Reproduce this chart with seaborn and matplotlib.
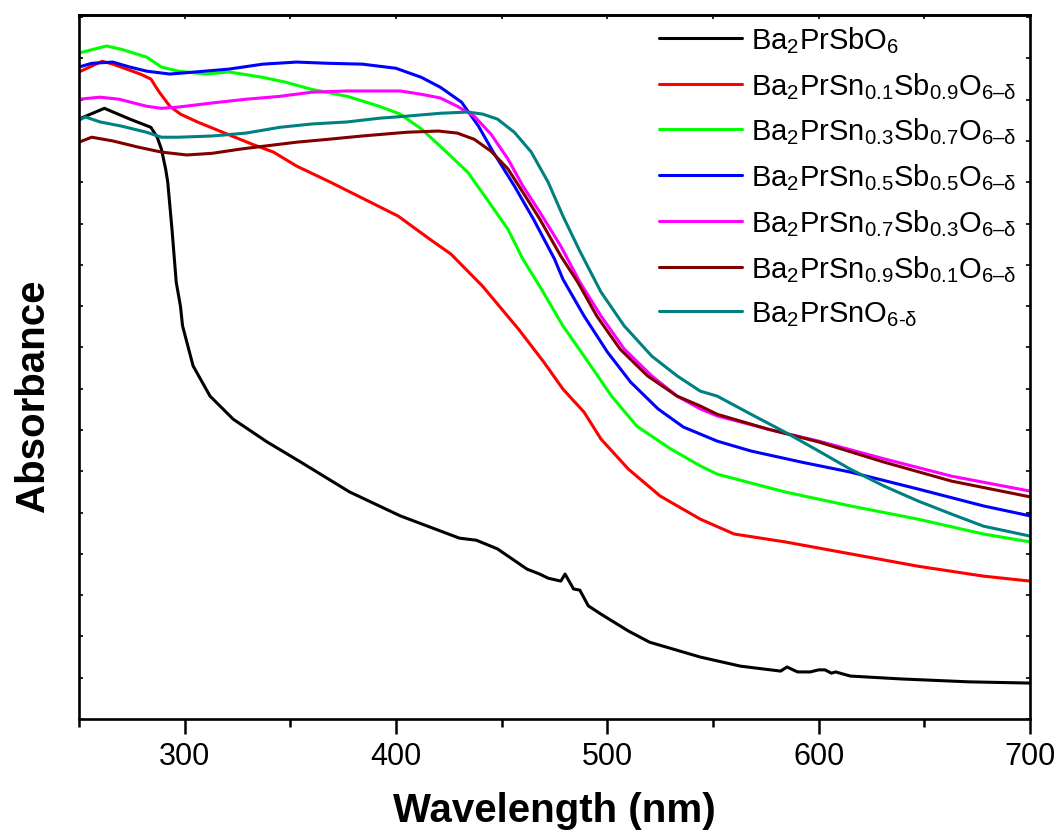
import numpy as np
import pandas as pd
import matplotlib
matplotlib.use("Agg")
import matplotlib.pyplot as plt
from matplotlib.ticker import MultipleLocator
import seaborn as sns

# ---------------- data (absorbance in arbitrary units) -------------
labels = [
    r"Ba$_2$PrSbO$_6$",
    r"Ba$_2$PrSn$_{0.1}$Sb$_{0.9}$O$_{\mathrm{6–δ}}$",
    r"Ba$_2$PrSn$_{0.3}$Sb$_{0.7}$O$_{\mathrm{6–δ}}$",
    r"Ba$_2$PrSn$_{0.5}$Sb$_{0.5}$O$_{\mathrm{6–δ}}$",
    r"Ba$_2$PrSn$_{0.7}$Sb$_{0.3}$O$_{\mathrm{6–δ}}$",
    r"Ba$_2$PrSn$_{0.9}$Sb$_{0.1}$O$_{\mathrm{6–δ}}$",
    r"Ba$_2$PrSnO$_{\mathrm{6\text{-}δ}}$",
]
colors = ["#000000", "#ff0000", "#00ff00", "#0000ff", "#ff00ff", "#800000", "#008080"]

wl_sb = [250, 262, 274, 284, 287, 289, 291, 292, 294, 296, 298, 299, 304, 312, 323, 339, 355,
         378, 402, 430, 438, 448, 462, 468, 472, 478, 480, 484, 487, 491, 497, 510, 520, 544,
         563, 582, 585, 590, 596, 600, 603, 606, 608, 615, 639, 671, 700]
ab_sb = [14.53, 14.79, 14.53, 14.33, 14.09, 13.80, 13.32, 13.00, 11.86, 10.58, 10.00, 9.52,
         8.55, 7.82, 7.26, 6.71, 6.22, 5.50, 4.92, 4.38, 4.33, 4.12, 3.63, 3.51, 3.41, 3.34,
         3.51, 3.15, 3.12, 2.74, 2.54, 2.13, 1.86, 1.50, 1.28, 1.16, 1.26, 1.14, 1.14, 1.19,
         1.19, 1.11, 1.14, 1.04, 0.97, 0.90, 0.87]

wl_01 = [250, 261, 266, 279, 284, 288, 293, 298, 306, 318, 332, 342, 353, 369, 385, 401, 416,
         426, 441, 458, 470, 479, 489, 497, 510, 525, 544, 560, 584, 615, 647, 678, 700]
ab_01 = [15.67, 15.93, 15.86, 15.62, 15.50, 15.18, 14.84, 14.65, 14.46, 14.21, 13.92, 13.73,
         13.39, 13.00, 12.59, 12.18, 11.62, 11.26, 10.48, 9.44, 8.64, 7.99, 7.43, 6.78, 6.05,
         5.40, 4.84, 4.48, 4.29, 4.00, 3.70, 3.46, 3.34]

wl_03 = [250, 263, 270, 282, 289, 297, 310, 321, 337, 348, 360, 377, 392, 402, 412, 421, 434,
         443, 453, 460, 468, 479, 491, 502, 514, 530, 544, 552, 584, 615, 647, 678, 700]
ab_03 = [16.13, 16.30, 16.22, 16.03, 15.79, 15.69, 15.62, 15.67, 15.54, 15.42, 15.25, 15.08,
         14.84, 14.65, 14.29, 13.87, 13.24, 12.59, 11.86, 11.14, 10.48, 9.52, 8.64, 7.82, 7.09,
         6.54, 6.13, 5.93, 5.50, 5.16, 4.84, 4.48, 4.29]

wl_05 = [250, 256, 266, 274, 282, 293, 305, 321, 337, 353, 368, 384, 400, 412, 421, 431, 439,
         446, 456, 465, 475, 479, 489, 500, 511, 524, 536, 552, 568, 592, 615, 647, 678, 700]
ab_05 = [15.79, 15.88, 15.91, 15.79, 15.69, 15.62, 15.67, 15.74, 15.86, 15.91, 15.88, 15.86,
         15.76, 15.54, 15.30, 14.94, 14.36, 13.73, 12.91, 12.11, 11.14, 10.65, 9.76, 8.89,
         8.16, 7.51, 7.07, 6.73, 6.49, 6.22, 5.98, 5.57, 5.16, 4.92]

wl_07 = [250, 260, 269, 282, 289, 297, 313, 329, 345, 360, 377, 392, 402, 412, 421, 429, 437,
         445, 453, 460, 468, 478, 487, 497, 508, 521, 533, 544, 552, 576, 600, 631, 663, 700]
ab_07 = [15.01, 15.06, 15.01, 14.84, 14.79, 14.82, 14.92, 15.01, 15.08, 15.18, 15.21, 15.21,
         15.21, 15.13, 15.04, 14.84, 14.60, 14.16, 13.56, 12.91, 12.28, 11.45, 10.58, 9.76,
         8.96, 8.31, 7.82, 7.51, 7.34, 7.02, 6.73, 6.30, 5.88, 5.52]

wl_09 = [250, 256, 266, 278, 289, 301, 313, 326, 337, 353, 368, 384, 405, 420, 429, 437, 445,
         453, 460, 468, 478, 486, 495, 506, 519, 533, 544, 552, 576, 600, 631, 663, 700]
ab_09 = [13.97, 14.09, 14.00, 13.85, 13.73, 13.66, 13.70, 13.80, 13.87, 13.97, 14.04, 14.12,
         14.21, 14.24, 14.19, 14.04, 13.75, 13.32, 12.76, 12.11, 11.21, 10.58, 9.76, 8.96,
         8.31, 7.82, 7.58, 7.38, 7.02, 6.71, 6.22, 5.76, 5.38]

wl_sn = [250, 253, 260, 270, 282, 289, 297, 313, 329, 345, 360, 377, 392, 405, 421, 434, 441,
         448, 456, 464, 472, 479, 487, 497, 508, 521, 533, 544, 552, 568, 584, 600, 615, 631,
         647, 663, 678, 700]
ab_sn = [14.50, 14.58, 14.46, 14.36, 14.21, 14.09, 14.09, 14.12, 14.19, 14.33, 14.41, 14.46,
         14.55, 14.60, 14.67, 14.70, 14.65, 14.53, 14.21, 13.73, 13.00, 12.18, 11.33, 10.34,
         9.52, 8.79, 8.31, 7.94, 7.82, 7.38, 6.95, 6.49, 6.05, 5.64, 5.28, 4.96, 4.67, 4.43]

wavelengths = [wl_sb, wl_01, wl_03, wl_05, wl_07, wl_09, wl_sn]
absorbances = [ab_sb, ab_01, ab_03, ab_05, ab_07, ab_09, ab_sn]

x_ticks = [300, 400, 500, 600, 700]

# ---------------- build long-form frame ----------------
frames = []
for lab, w, a in zip(labels, wavelengths, absorbances):
    frames.append(pd.DataFrame({"Wavelength": w, "Absorbance": a, "Sample": lab}))
df = pd.concat(frames, ignore_index=True)

# ---------------- style ----------------
sns.set_theme(style="ticks")
plt.rcParams["font.family"] = ["Liberation Sans", "DejaVu Sans"]
plt.rcParams["mathtext.fontset"] = "custom"
plt.rcParams["mathtext.rm"] = "Liberation Sans"
plt.rcParams["mathtext.it"] = "Liberation Sans:italic"
plt.rcParams["mathtext.bf"] = "Liberation Sans:bold"
for key in ["text.color", "axes.labelcolor", "xtick.color", "ytick.color", "axes.edgecolor"]:
    plt.rcParams[key] = "black"

fig = plt.figure(figsize=(10.55, 8.37), dpi=100)
ax = fig.add_axes([79 / 1055, 1 - 720 / 837, (1030 - 79) / 1055, (720 - 16) / 837])

sns.lineplot(data=df, x="Wavelength", y="Absorbance", hue="Sample", hue_order=labels,
             palette=colors, estimator=None, sort=True, linewidth=2.2, ax=ax, legend=False)

ax.set_xlim(250, 700)
ax.set_ylim(0, 17.05)

for s in ax.spines.values():
    s.set_linewidth(1.9)
    s.set_color("black")

ax.set_xticks(x_ticks)
ax.xaxis.set_minor_locator(MultipleLocator(50))
ax.tick_params(axis="x", which="major", direction="out", length=11, width=1.8,
               labelsize=22, pad=5, colors="black", top=False)
ax.tick_params(axis="x", which="minor", direction="out", length=6, width=1.8, top=False)

ax.yaxis.set_major_locator(MultipleLocator(1))
ax.tick_params(axis="y", which="major", direction="in", length=3, width=1.2,
               left=True, right=True, labelleft=False)

top = ax.secondary_xaxis("top")
top.set_xticks(x_ticks)
top.xaxis.set_minor_locator(MultipleLocator(50))
top.tick_params(axis="x", which="both", direction="in", length=3, width=1.2, labeltop=False)
top.spines["top"].set_linewidth(1.9)

ax.set_xlabel("Wavelength (nm)", fontsize=29, fontweight="bold", labelpad=14)
ax.set_ylabel("Absorbance", fontsize=29, fontweight="bold")
ax.yaxis.set_label_coords(-0.028, 0.46)

handles = [plt.Line2D([], [], color=c, lw=2.2) for c in colors]
leg = ax.legend(handles, labels, loc="upper right", bbox_to_anchor=(0.995, 1.0),
                frameon=False, fontsize=21, handlelength=2.85, handletextpad=0.3,
                labelspacing=0.52, borderaxespad=0.2, borderpad=0.1)

fig.savefig("out.png", dpi=100)
